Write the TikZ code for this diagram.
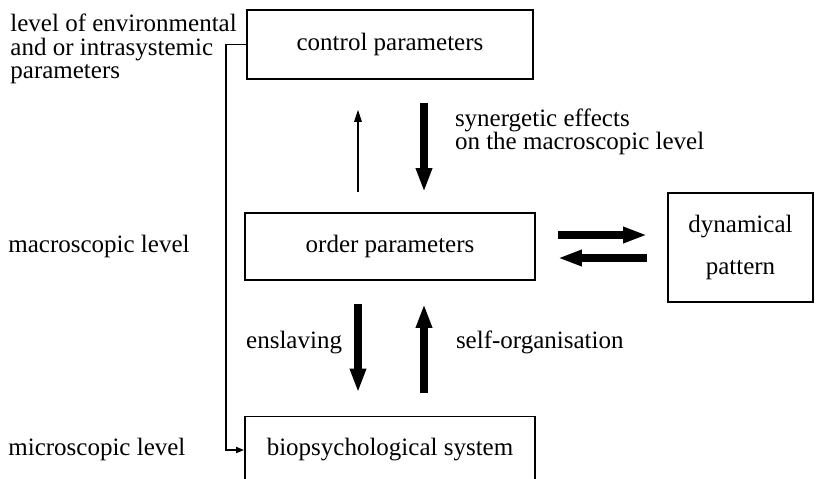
\documentclass[tikz,border=0pt]{standalone}
\usepackage{fontspec}
\setmainfont{Liberation Serif}
\usetikzlibrary{arrows.meta, positioning}

\begin{document}
\begin{tikzpicture}[
  x=0.5pt, y=-0.5pt,
  every node/.style={font=\fontsize{12.5}{11.8}\selectfont},
  box/.style={rectangle, draw, line width=0.9pt, inner sep=0pt, align=center},
  lbl/.style={align=left, inner sep=0pt},
  thinarr/.style={-{Triangle[length=6.5pt, width=3.5pt]}, line width=1.4pt},
  fatarr/.style={-{Triangle[length=12pt, width=7.5pt]}, line width=4pt},
  feed/.style={-{Triangle[length=4pt, width=3pt]}, line width=0.9pt},
]
\useasboundingbox (0,0) rectangle (819,478);

% Levels
\node[box, minimum width=143pt, minimum height=34.5pt] (ctrl) at (390,44.5) {control parameters};
\node[box, minimum width=145pt, minimum height=33.5pt] (order) at (390,246.5) {order parameters};
\node[box, minimum width=145pt, minimum height=33.5pt] (bio) at (390,450) {biopsychological system};

% Pattern
\node[box, minimum width=72.5pt, minimum height=54.5pt] (dyn) at (740.5,247.5) {dynamical\\[9pt]pattern};

% Left column
\coordinate (lm) at (8,0);
\node[lbl, anchor=west] (envlbl) at (10,49) {level of environmental\\and or intrasystemic\\parameters};
\node[lbl, anchor=base west] (macro) at (order.base -| lm) {macroscopic level};
\node[lbl, anchor=base west] (micro) at (bio.base -| lm) {microscopic level};

% Flows
\draw[feed] (ctrl.west) -- ++(-20,0) |- (bio.west);
\draw[thinarr, shorten <=10pt, shorten >=14.5pt] ([xshift=-16pt]order.north) -- ([xshift=-16pt]ctrl.south);
\draw[fatarr, shorten <=11.5pt, shorten >=10pt] ([xshift=17pt]ctrl.south) -- ([xshift=17pt]order.north)
  node[lbl, midway, right=13.5pt, yshift=7pt] (syn) {synergetic effects\\on the macroscopic level};
\draw[fatarr, shorten <=11.5pt, shorten >=11.5pt] ([xshift=-16pt]order.south) -- ([xshift=-16pt]bio.north)
  node[lbl, midway, left=6pt, yshift=3pt] (ensl) {enslaving};
\draw[fatarr, shorten <=11.5pt, shorten >=11.5pt] ([xshift=17pt]bio.north) -- ([xshift=17pt]order.south)
  node[lbl, midway, right=14pt, yshift=3pt] (selforg) {self-organisation};
\draw[fatarr, shorten <=11pt, shorten >=10pt] ([yshift=5.75pt]order.east) -- ([yshift=5.75pt]order.east -| dyn.west);
\draw[fatarr, shorten <=10pt, shorten >=11pt] ([yshift=-5.75pt]order.east -| dyn.west) -- ([yshift=-5.75pt]order.east);

\end{tikzpicture}
\end{document}
